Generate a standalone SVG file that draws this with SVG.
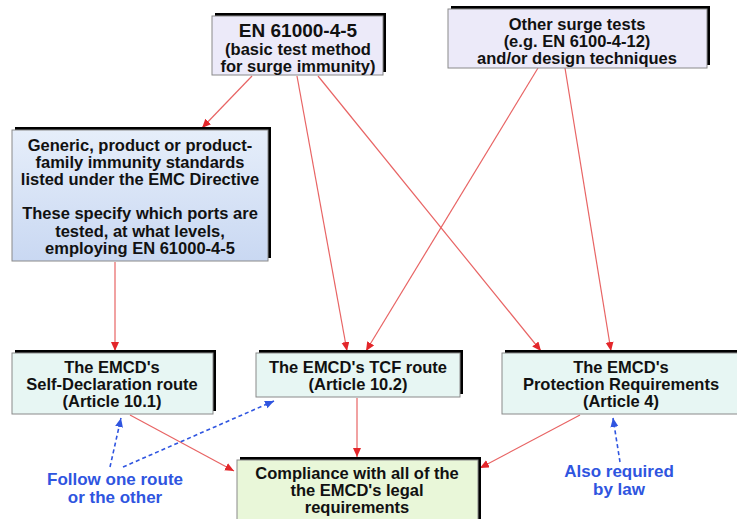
<svg xmlns="http://www.w3.org/2000/svg" width="737" height="519" viewBox="0 0 737 519">
<defs>
<marker id="ar" markerUnits="userSpaceOnUse" markerWidth="10" markerHeight="10" refX="9" refY="4" orient="auto"><path d="M0,0 L9,4 L0,8 Z" fill="#e3262a"/></marker>
<marker id="ab" markerUnits="userSpaceOnUse" markerWidth="10" markerHeight="10" refX="9" refY="4" orient="auto"><path d="M0,0 L9,4 L0,8 Z" fill="#2f55e0"/></marker>
<linearGradient id="gb" x1="0" y1="0" x2="0" y2="1"><stop offset="0" stop-color="#e6eefa"/><stop offset="1" stop-color="#c9d8f2"/></linearGradient>
</defs>
<style>
.sh{fill:#000}
.bd{stroke:#8a8a8a;stroke-width:1}
.t{font-family:"Liberation Sans",Arial,sans-serif;font-weight:bold;font-size:16.5px;fill:#111;text-anchor:middle}
.big{font-size:19px}
.bl{font-family:"Liberation Sans",Arial,sans-serif;font-weight:bold;font-size:17px;fill:#2f55e0;text-anchor:middle}
.r{stroke:#e86464;stroke-width:1.2;fill:none;marker-end:url(#ar)}
.b{stroke:#2f55e0;stroke-width:1.6;fill:none;stroke-dasharray:4 3;marker-end:url(#ab)}
</style>
<rect width="737" height="519" fill="#fff"/>
<g id="connectors">
<line class="r" x1="252" y1="76" x2="202" y2="128"/>
<line class="r" x1="297" y1="76" x2="347" y2="351"/>
<line class="r" x1="318" y1="76" x2="541" y2="351"/>
<line class="r" x1="538" y1="68" x2="366" y2="351"/>
<line class="r" x1="565" y1="68" x2="611" y2="351"/>
<line class="r" x1="115" y1="262" x2="115" y2="351"/>
<line class="r" x1="130" y1="415" x2="234" y2="471"/>
<line class="r" x1="357" y1="398" x2="357" y2="457"/>
<line class="r" x1="580" y1="415" x2="480" y2="468"/>
<line class="b" x1="110" y1="467" x2="121" y2="418"/>
<line class="b" x1="123" y1="467" x2="274" y2="401"/>
<line class="b" x1="620" y1="462" x2="613" y2="418"/>
</g>
<g id="en61000">
<rect class="sh" x="215" y="13" width="171" height="59"/>
<rect class="bd" x="212" y="16" width="171" height="59" fill="#eceaf9"/>
<text class="t big" x="298" y="37">EN 61000-4-5</text>
<text class="t" x="298" y="55">(basic test method</text>
<text class="t" x="298" y="72">for surge immunity)</text>
</g>
<g id="other">
<rect class="sh" x="451" y="6" width="259" height="59"/>
<rect class="bd" x="448" y="9" width="259" height="59" fill="#eceaf9"/>
<text class="t" x="577" y="30">Other surge tests</text>
<text class="t" x="577" y="47">(e.g. EN 6100-4-12)</text>
<text class="t" x="577" y="64">and/or design techniques</text>
</g>
<g id="generic">
<rect class="sh" x="15" y="127" width="256" height="131"/>
<rect class="bd" x="12" y="130" width="256" height="131" fill="url(#gb)"/>
<text class="t" x="140" y="151">Generic, product or product-</text>
<text class="t" x="140" y="168">family immunity standards</text>
<text class="t" x="140" y="185">listed under the EMC Directive</text>
<text class="t" x="140" y="219">These specify which ports are</text>
<text class="t" x="140" y="237">tested, at what levels,</text>
<text class="t" x="140" y="254">employing EN 61000-4-5</text>
</g>
<g id="selfdecl">
<rect class="sh" x="15" y="350" width="201" height="61"/>
<rect class="bd" x="12" y="353" width="201" height="61" fill="#e7f6f3"/>
<text class="t" x="112" y="373">The EMCD's</text>
<text class="t" x="112" y="390">Self-Declaration route</text>
<text class="t" x="112" y="407">(Article 10.1)</text>
</g>
<g id="tcf">
<rect class="sh" x="259" y="350" width="204" height="44"/>
<rect class="bd" x="256" y="353" width="204" height="44" fill="#e7f6f3"/>
<text class="t" x="358" y="373">The EMCD's TCF route</text>
<text class="t" x="358" y="390">(Article 10.2)</text>
</g>
<g id="protection">
<rect class="sh" x="505" y="350" width="238" height="61"/>
<rect class="bd" x="502" y="353" width="238" height="61" fill="#e7f6f3"/>
<text class="t" x="621" y="373">The EMCD's</text>
<text class="t" x="621" y="390">Protection Requirements</text>
<text class="t" x="621" y="407">(Article 4)</text>
</g>
<g id="compliance">
<rect class="sh" x="240" y="457" width="241" height="70"/>
<rect class="bd" x="237" y="460" width="241" height="70" fill="#e9f7d9"/>
<text class="t" x="357" y="479">Compliance with all of the</text>
<text class="t" x="357" y="496">the EMCD's legal</text>
<text class="t" x="357" y="513">requirements</text>
</g>
<g id="note-follow">
<text class="bl" x="115" y="485">Follow one route</text>
<text class="bl" x="115" y="503">or the other</text>
</g>
<g id="note-law">
<text class="bl" x="619" y="477">Also required</text>
<text class="bl" x="619" y="495">by law</text>
</g>
</svg>
